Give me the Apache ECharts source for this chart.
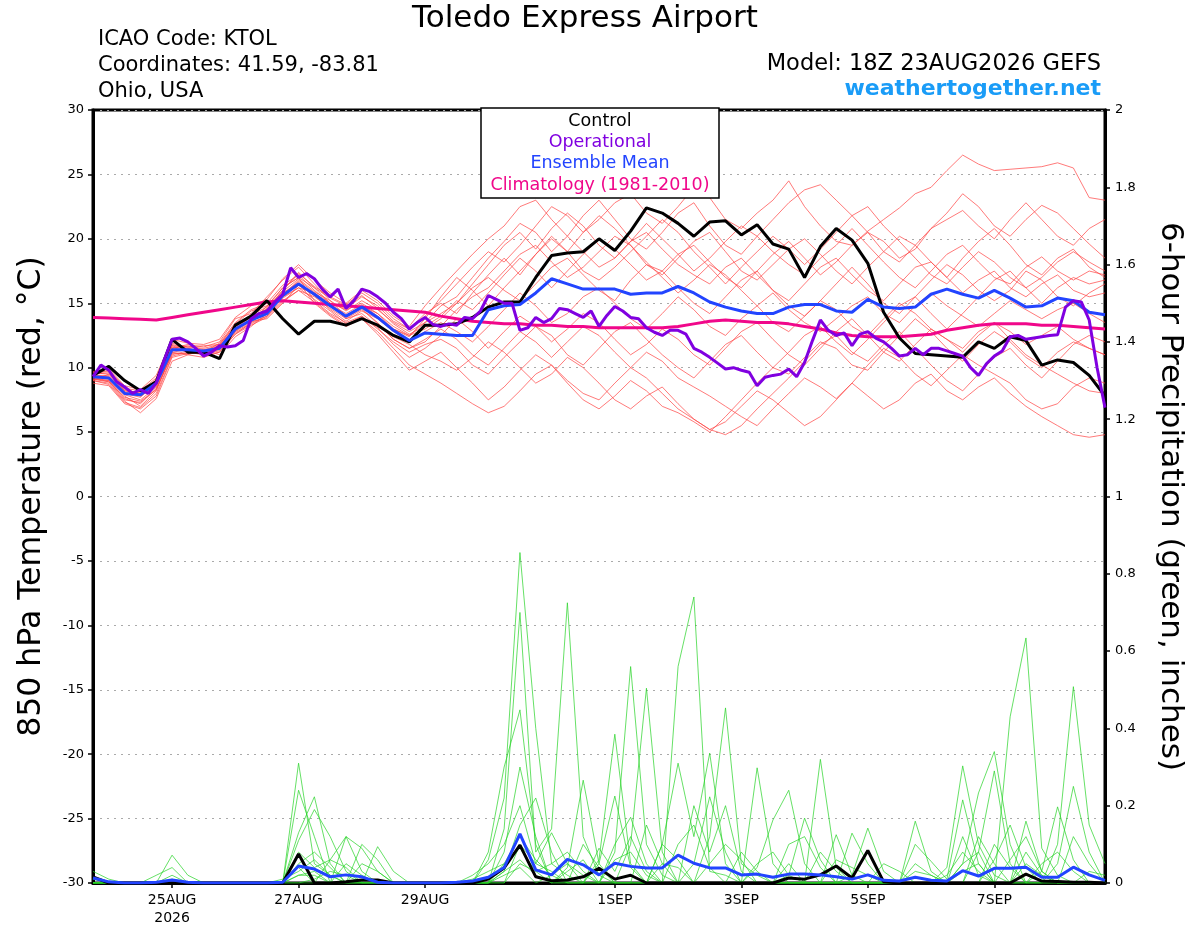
<!DOCTYPE html>
<html><head><meta charset="utf-8">
<script src="https://cdn.jsdelivr.net/npm/echarts@6/dist/echarts.min.js"></script>
<style>html,body{margin:0;padding:0;background:#fff}#c{width:1200px;height:927px}</style>
</head><body><div id="c"></div>
<script>
const FONT = "'DejaVu Sans', 'Liberation Sans', Arial, sans-serif";

// x axis: 3-hourly steps from 23AUG2026 18Z to 8SEP2026 18Z
const xTickIndex = [10, 26, 42, 66, 82, 98, 114];
const xTickLabels = ['25AUG\n2026', '27AUG', '29AUG', '1SEP', '3SEP', '5SEP', '7SEP'];

// 850 hPa temperature (deg C), 6-hourly (65 points)
const controlTemp = [9.4,10.1,9.0,8.2,8.9, 12.2,11.2,11.2,10.7,13.3, 14.0,15.2,13.8,12.6,13.6, 13.6,13.3,13.8,13.3,12.5, 12.0,13.3,13.3,13.4,13.9, 14.7,15.1,15.1,17.0,18.7, 18.9,19.0,20.0,19.1,20.6, 22.4,22.0,21.2,20.2,21.3, 21.4,20.3,21.1,19.6,19.2, 17.0,19.4,20.8,19.9,18.1, 14.3,12.3,11.1,11.0,10.9, 10.8,12.0,11.5,12.4,12.1, 10.2,10.6,10.4,9.4,7.8];
const meanTemp = [9.3,9.2,8.0,7.9,8.8, 11.4,11.4,11.3,11.5,13.0, 13.7,14.2,15.6,16.5,15.7, 14.8,14.0,14.7,13.9,12.9, 12.1,12.7,12.6,12.5,12.5, 14.5,14.8,14.9,15.8,16.9, 16.5,16.1,16.1,16.1,15.7, 15.8,15.8,16.3,15.8,15.1, 14.7,14.4,14.2,14.2,14.7, 14.9,14.9,14.4,14.3,15.3, 14.7,14.6,14.7,15.7,16.1, 15.7,15.4,16.0,15.4,14.7, 14.8,15.4,15.2,14.3,14.1];
const climTemp = [13.9,13.85,13.8,13.75,13.7, 13.9,14.1,14.3,14.5,14.7, 14.9,15.1,15.2,15.1,15.0, 14.9,14.8,14.7,14.6,14.5, 14.4,14.3,14.0,13.8,13.6, 13.5,13.4,13.4,13.3,13.3, 13.2,13.2,13.1,13.1,13.1, 13.1,13.1,13.2,13.4,13.6, 13.7,13.6,13.5,13.5,13.4, 13.2,13.0,12.7,12.5,12.4, 12.4,12.4,12.5,12.6,12.9, 13.1,13.3,13.4,13.4,13.4, 13.3,13.3,13.2,13.1,13.0];
// operational run, 3-hourly (129 points)
const operTemp = [9.3,10.2,9.8,8.9,8.5,8.0,8.3,8.0,8.8,10.6, 12.2,12.3,12.0,11.5,10.9,11.2,11.7,11.6,11.7,12.1, 13.8,14.2,14.4,15.1,15.7,17.75,17.0,17.3,16.9,16.1, 15.5,16.1,14.6,15.2,16.1,15.9,15.5,15.0,14.3,13.8, 13.0,13.5,13.9,13.35,13.2,13.4,13.3,13.9,13.8,14.4, 15.6,15.3,15.0,15.0,12.9,13.1,13.9,13.5,13.8,14.6, 14.5,14.2,13.9,14.4,13.2,14.05,14.75,14.4,13.9,13.8, 13.1,12.75,12.5,12.9,12.9,12.6,11.5,11.2,10.8,10.35, 9.9,10.0,9.8,9.65,8.6,9.25,9.4,9.5,9.9,9.3, 10.4,12.1,13.7,12.9,12.5,12.7,11.7,12.6,12.8,12.3, 12.0,11.5,10.9,11.0,11.5,11.0,11.5,11.5,11.3,11.1, 10.9,10.0,9.4,10.3,10.9,11.3,12.4,12.5,12.2,12.3, 12.4,12.5,12.55,14.7,15.2,15.1,13.7,10.0,6.9];

// ensemble members, 6-hourly temperature
const memberTemp01 = [9.5,9.8,8.5,7.8,8.6, 11.8,11.5,11.2,11.9,13.5, 14.5,15.0,16.4,17.2,16.0, 15.0,14.6,15.5,14.8,13.6, 13.0,14.0,15.2,16.5,17.8, 19.0,18.2,19.5,21.0,22.5, 21.8,20.5,21.5,22.8,23.5, 22.0,21.2,22.5,24.0,23.2, 21.5,20.8,22.0,23.0,24.5, 22.5,21.0,19.8,19.5,20.6, 21.5,22.4,23.5,24.0,25.3, 26.5,25.8,25.3,25.4,25.5, 25.6,25.9,25.5,23.2,23.0];
const memberTemp02 = [9.0,9.5,8.2,8.0,9.0, 11.5,11.8,11.6,12.0,13.8, 14.2,15.5,16.8,17.8,16.5, 15.2,14.0,14.8,14.2,13.2, 12.5,13.5,14.8,15.5,17.0, 18.5,19.8,21.2,20.5,19.0, 20.2,21.8,23.0,21.5,20.0, 19.2,20.5,22.0,22.8,21.0, 19.5,18.8,20.2,21.5,22.8, 23.8,24.2,23.0,21.8,20.5, 19.0,18.2,19.5,20.8,22.0, 23.5,22.5,21.0,20.2,21.5, 22.6,22.0,20.8,19.6,18.5];
const memberTemp03 = [9.2,9.0,7.6,7.2,8.4, 11.0,11.3,11.0,11.2,12.6, 13.5,14.0,15.2,16.0,15.5, 14.6,13.8,14.5,13.5,12.2, 11.5,12.0,13.2,14.5,15.5, 16.2,17.5,18.8,19.5,18.2, 17.0,17.8,19.0,20.2,19.5, 18.0,17.2,18.5,19.8,20.5, 19.0,17.5,16.8,18.0,19.2, 20.0,18.8,17.5,16.5,17.8, 19.0,20.2,19.5,18.2,17.0, 18.5,19.8,20.8,19.5,18.0, 17.2,18.5,19.2,17.8,17.0];
const memberTemp04 = [9.0,8.8,7.4,6.5,7.6, 10.5,11.0,11.4,11.0,12.4, 13.2,14.2,15.8,16.6,15.0, 14.0,13.2,13.8,12.8,11.5, 10.2,9.5,8.8,8.0,7.2, 6.5,7.0,8.2,9.5,10.2, 9.0,8.0,7.5,8.8,10.0, 11.2,10.5,9.2,8.5,7.8, 7.0,6.2,5.5,6.8,8.0, 9.2,8.5,7.6,8.8,10.2, 11.5,10.8,9.5,8.6,9.8, 11.0,10.2,9.5,8.8,7.5, 6.8,7.2,8.5,9.2,8.8];
const memberTemp05 = [9.4,9.3,8.0,7.7,8.8, 11.6,11.2,11.0,11.6,13.2, 14.0,14.5,15.9,16.9,15.9, 15.2,14.4,15.2,14.5,13.5, 12.8,13.5,14.2,15.0,16.2, 17.0,16.0,15.2,16.5,17.8, 18.5,17.2,16.0,15.2,16.8, 18.0,17.5,16.2,15.0,14.2, 15.5,16.8,17.5,16.0,14.8, 14.0,15.2,16.5,17.8,16.5, 15.0,14.2,15.5,16.8,18.0, 17.2,16.0,15.2,16.0,17.5, 16.8,15.5,14.8,15.8,16.5];
const memberTemp06 = [9.1,9.0,7.8,7.0,8.2, 11.2,11.0,10.8,11.2,12.8, 13.5,14.8,16.2,17.0,15.2, 14.2,13.5,14.0,13.0,12.0, 11.2,11.8,12.2,11.5,10.2, 9.5,10.8,12.0,13.2,12.5, 11.0,10.2,11.5,12.8,13.5, 12.2,11.0,10.0,9.2,10.5, 11.8,12.5,11.2,10.0,9.5, 10.8,12.0,11.5,10.2,9.8, 11.2,12.5,13.8,12.8,11.5, 10.5,11.8,12.8,12.0,10.8, 10.0,11.2,12.0,11.5,11.0];
const memberTemp07 = [9.6,9.7,8.4,8.2,9.2, 11.9,11.6,11.5,11.8,13.4, 14.4,14.8,15.5,16.2,15.8, 15.0,14.5,15.0,14.2,13.0, 12.5,13.0,13.8,15.0,16.5, 18.0,19.5,20.5,19.2,20.8, 22.0,21.0,19.5,18.5,19.8, 21.2,20.0,18.8,17.5,18.5, 19.8,21.0,20.2,19.0,18.0, 17.2,18.5,19.5,20.8,19.5, 18.2,17.0,16.2,17.5,18.8, 19.5,18.2,17.0,16.5,17.8, 18.6,17.5,16.8,17.5,17.2];
const memberTemp08 = [8.8,8.6,7.2,6.8,7.8, 10.8,11.1,11.2,11.4,12.8, 13.8,14.6,16.0,17.4,16.2, 15.0,13.8,14.2,13.2,12.4, 11.8,11.0,10.5,9.8,10.8, 12.0,11.2,10.0,8.8,9.5, 10.8,10.0,8.8,7.5,6.8, 7.8,8.5,7.2,6.0,5.2, 5.8,7.0,8.2,7.5,6.5, 5.5,6.2,7.5,8.8,7.8, 6.8,7.5,8.8,9.5,8.2, 7.5,8.5,9.2,8.0,7.0, 6.2,5.5,4.8,4.6,4.8];
const memberTemp09 = [9.3,9.1,7.9,7.5,8.5, 11.3,11.5,11.3,11.6,13.0, 13.6,13.8,15.0,16.4,15.6, 14.5,13.6,14.4,13.8,12.8, 12.0,12.8,13.5,12.8,12.0, 13.2,14.5,15.8,14.8,13.5, 14.2,15.5,16.2,15.0,13.8, 13.0,14.2,15.5,14.5,13.2, 12.5,13.8,14.8,15.8,14.5, 13.5,12.8,13.8,14.8,15.5, 14.2,13.5,14.8,15.8,14.8, 14.0,13.2,14.2,15.2,14.5, 13.8,14.5,15.0,14.2,13.5];
const memberTemp10 = [9.7,9.9,8.6,8.3,9.4, 12.2,11.9,11.8,12.2,13.9, 14.8,15.3,16.9,18.0,16.8, 15.8,15.0,16.0,15.2,14.0, 13.2,14.8,16.2,17.5,18.8, 20.0,21.0,22.5,23.0,21.5, 20.2,19.0,17.8,18.5,19.8, 20.5,19.2,18.0,17.2,16.5, 17.8,18.5,17.2,16.0,15.2, 16.5,17.8,18.5,17.2,16.0, 15.2,16.5,17.8,18.2,17.0, 15.8,16.8,17.5,16.2,15.5, 16.5,17.2,16.0,15.5,15.8];
const memberTemp11 = [9.2,8.9,7.5,7.3,8.3, 11.2,11.4,11.3,11.4,12.7, 13.4,14.0,15.4,16.2,15.3, 14.4,13.4,13.8,12.6,11.2, 9.8,10.5,11.2,10.0,8.8, 7.5,8.5,9.8,11.0,10.2, 8.8,7.5,6.8,7.8,9.0, 8.2,7.0,6.5,5.8,5.0, 6.2,7.5,8.8,10.0,11.2, 12.5,13.2,12.0,11.0,12.2, 13.5,14.8,15.5,14.2,13.0, 14.2,15.5,16.8,17.5,16.2, 15.0,16.2,17.0,16.5,16.8];
const memberTemp12 = [9.5,9.6,8.2,8.1,9.0, 11.7,11.6,11.7,11.8,13.3, 14.1,14.7,16.2,17.0,16.2, 15.4,14.8,15.6,14.6,13.4, 12.6,13.2,14.0,15.2,14.5, 15.8,17.2,18.5,17.5,16.2, 17.5,18.8,20.0,19.2,18.0, 16.8,17.5,18.8,19.5,18.2, 17.0,16.2,17.5,18.8,19.8, 18.5,17.2,18.2,19.5,20.5, 19.8,18.5,19.2,20.8,21.5, 22.2,21.0,20.0,21.5,22.8, 21.5,20.2,19.5,20.8,21.5];
const memberTemp13 = [9.0,8.7,7.3,6.9,8.0, 10.9,11.2,11.3,11.5,12.9, 13.6,14.4,15.6,16.8,15.8, 14.8,13.9,14.6,13.4,12.2, 11.5,12.2,13.0,12.2,11.0, 10.2,11.5,12.8,12.0,10.8, 12.0,13.2,12.5,11.2,10.0, 9.2,8.0,6.8,6.0,5.2, 4.8,5.5,6.8,8.0,9.2, 10.5,11.8,12.5,11.2,10.5, 11.8,12.8,11.5,10.2,9.0, 8.2,9.5,10.8,11.5,10.2, 9.2,10.5,11.8,12.5,12.0];
const memberTemp14 = [9.4,9.4,8.1,7.8,8.9, 11.5,11.7,11.4,11.7,13.1, 13.9,14.3,15.7,16.7,15.6, 14.9,14.2,14.9,14.0,13.0, 12.4,13.8,15.5,17.0,16.0, 14.8,16.2,17.5,18.8,20.0, 19.0,17.5,16.8,17.8,19.0, 20.2,21.5,20.5,19.0,17.8, 16.5,17.8,19.0,20.2,19.2, 18.0,19.2,20.5,21.8,22.5, 21.0,19.8,18.5,17.2,16.5, 17.8,19.0,18.2,17.0,16.2, 17.0,18.2,19.0,18.2,17.5];
const memberTemp15 = [9.1,8.9,7.7,7.4,8.3, 11.1,11.1,11.1,11.3,12.6, 13.3,13.9,15.1,16.0,15.1, 14.1,13.3,14.0,13.1,11.8, 10.8,11.5,12.5,13.8,12.8, 11.5,12.8,14.0,13.2,12.0, 13.0,14.2,13.5,12.2,11.0, 11.8,13.0,12.2,11.0,10.2, 11.5,12.8,13.5,12.2,11.0, 10.2,11.5,12.8,13.8,12.5, 11.2,10.5,11.8,13.0,12.2, 11.2,12.5,13.5,12.8,11.8, 12.5,13.2,12.2,11.5,11.0];
const memberTemp16 = [9.6,9.5,8.3,8.0,9.1, 11.7,11.3,11.2,11.7,13.2, 14.0,14.5,16.0,17.3,16.3, 15.5,14.9,15.8,15.0,13.8, 13.0,14.2,15.0,14.2,15.8, 17.2,18.5,17.2,18.8,20.2, 19.0,20.5,21.8,20.8,19.5, 18.2,17.0,15.8,16.8,18.0, 17.2,16.0,14.8,13.5,12.8, 14.0,15.2,14.5,13.2,12.5, 13.8,15.0,14.2,13.0,12.2, 11.5,12.8,13.5,12.2,11.0, 10.2,9.5,8.8,8.2,8.0];

// 6-hour precipitation (inches), 6-hourly
const controlPrecip = [.016,0,0,0,0, 0,0,0,0,0, 0,0,0,.075,0, 0,.003,.008,.008,0, 0,0,0,0,0, .01,.039,.098,.016,.006, .008,.016,.038,.01,.02, 0,0,0,0,0, 0,0,0,0,.013, .01,.021,.044,.013,.084, .003,0,0,0,0, 0,0,0,0,.023, .005,.004,.002,.002,0];
const meanPrecip = [.013,.003,0,0,.002, .008,.002,0,0,0, 0,0,.002,.044,.036, .016,.021,.016,.002,0, 0,0,0,.002,.005, .015,.04,.127,.034,.021, .061,.047,.021,.051,.043, .039,.039,.072,.051,.039, .039,.021,.023,.015,.023, .023,.021,.016,.01,.021, .007,.005,.015,.007,.005, .032,.018,.038,.038,.041, .015,.015,.041,.021,.007];
const memberPrecip01 = [.03,.01,0,0,0, 0,0,0,0,0, 0,0,0,.31,.05, .02,0,0,0,0, 0,0,0,0,0, .06,.22,.855,.40,.05, .02,0,0,.08,.56, .1,.02,0,0,0, 0,0,0,0,.05, 0,.32,.04,0,0, 0,0,0,0,0, .12,.02,0,0,.16, .03,0,0,0,0];
const memberPrecip02 = [0,0,0,0,0, .072,.02,0,0,0, 0,0,0,.24,.12, 0,.12,.03,0,0, 0,0,0,0,0, 0,.14,.70,.08,.14, .725,.12,.02,0,0, 0,0,.56,.74,.03, .02,0,0,0,0, 0,0,0,0,0, 0,0,.16,.03,0, 0,0,0,.43,.634, .09,.02,0,0,0];
const memberPrecip03 = [0,0,0,0,.02, .04,0,0,0,0, 0,0,0,.13,.223, .05,0,0,.094,.03, 0,0,0,0,0, .08,.30,.448,.1,0, .04,.266,.05,0,.1, .504,.08,0,0,.12, .453,.05,.02,0,0, 0,0,0,0,0, 0,0,0,0,0, .05,.233,.34,.1,0, 0,.1,.508,.15,.05];
const memberPrecip04 = [0,0,0,0,0, 0,0,0,0,0, 0,0,0,.11,.19, .12,.03,0,0,0, 0,0,0,0,0, 0,.05,.12,.06,.02, 0,0,.06,.385,.05, 0,.1,.31,.12,.336, .05,0,0,0,.02, .168,.06,0,0,0, 0,0,0,0,.04, .303,.1,.02,0,0, .03,.197,.06,0,0];
const memberPrecip05 = [0,0,0,0,0, .02,0,0,0,0, 0,0,0,.08,.04, .06,.12,.09,.03,0, 0,0,0,0,.02, .05,.1,.2,.05,.13, .05,0,.05,.225,.04, 0,0,0,.05,.223, .08,0,.04,.163,.24, .05,0,0,0,0, 0,0,0,0,0, 0,.08,.29,.05,0, 0,.05,.25,.08,0];
const memberPrecip06 = [0,0,0,0,0, 0,0,0,0,0, 0,0,0,.05,.08, .04,0,.1,.06,0, 0,0,0,0,0, 0,.03,.15,.22,.08, 0,.1,.04,0,0, .15,.05,0,0,0, 0,0,.298,.05,0, 0,0,.125,.02,0, 0,0,.1,.056,.01, .215,.05,0,0,0, 0,0,0,0,0];
const memberPrecip07 = [0,0,0,0,0, 0,0,0,0,0, 0,0,0,.04,0, .06,.04,0,0,0, 0,0,0,0,0, 0,.08,.3,.12,0, .03,.06,0,.1,.17, .05,0,0,.2,.08, .2,.03,0,0,0, 0,0,0,.129,.05, 0,0,0,0,0, 0,.12,.05,0,.08, .02,0,0,0,0];
const memberPrecip08 = [0,0,0,0,0, 0,0,0,0,0, 0,0,.01,.03,.06, .02,0,0,0,0, 0,0,0,0,.01, .03,.05,.09,.03,.05, .08,.03,0,0,0, 0,.1,.06,0,0, 0,.08,.03,0,0, 0,0,0,.02,.142, .03,0,.03,.02,0, 0,0,.1,.04,0, 0,0,.12,.05,0];
const memberPrecip09 = [0,0,0,0,0, 0,0,0,0,0, 0,0,0,.02,.03, 0,.05,.02,0,0, 0,0,0,0,0, 0,.03,.06,.02,0, 0,0,.09,.03,.12, .03,0,.1,.15,.04, 0,0,0,0,.1, .12,.04,0,0,0, 0,0,0,0,0, .05,.08,0,.06,.12, .03,0,0,0,0];
const memberPrecip10 = [0,0,0,0,0, 0,0,0,0,0, 0,0,0,0,0, 0,0,0,0,0, 0,0,0,0,0, 0,.02,.04,0,.02, .05,.02,0,0,0, 0,0,0,0,.05, .1,.06,0,0,0, 0,.08,.03,0,0, .05,.03,0,0,.02, .08,.03,0,0,0, .05,.08,.03,0,0];
const memberPrecip11 = [.01,0,0,0,0, .01,0,0,0,0, 0,0,0,.02,.02, 0,0,.05,.03,0, 0,0,0,0,0, 0,0,.05,.03,0, 0,0,0,.06,.08, .02,0,0,0,0, 0,0,.05,.08,.02, 0,0,0,0,0, 0,0,.05,.02,0, 0,0,.06,.15,.04, 0,0,0,0,0];
const memberPrecip12 = [0,0,0,0,0, 0,0,0,0,0, 0,0,0,0,.01, .03,.02,0,0,0, 0,0,0,0,0, 0,0,.1,.05,.03, 0,0,0,0,0, 0,.05,.04,0,0, 0,0,0,0,0, 0,0,.06,.04,.02, 0,0,0,0,0, .03,.05,0,0,.05, .02,0,0,.03,.02];

const memberTemps = [memberTemp01,memberTemp02,memberTemp03,memberTemp04,memberTemp05,memberTemp06,memberTemp07,memberTemp08,memberTemp09,memberTemp10,memberTemp11,memberTemp12,memberTemp13,memberTemp14,memberTemp15,memberTemp16];
const memberPrecips = [memberPrecip01,memberPrecip02,memberPrecip03,memberPrecip04,memberPrecip05,memberPrecip06,memberPrecip07,memberPrecip08,memberPrecip09,memberPrecip10,memberPrecip11,memberPrecip12];

// category axis: 3-hourly valid times
const MONTHS = ['JAN','FEB','MAR','APR','MAY','JUN','JUL','AUG','SEP','OCT','NOV','DEC'];
const startMs = Date.UTC(2026, 7, 23, 18);
const categories = [];
for (let j = 0; j < operTemp.length; j++) {
  const d = new Date(startMs + j * 3 * 3600 * 1000);
  categories.push(String(d.getUTCHours()).padStart(2,'0') + 'Z' + d.getUTCDate() + MONTHS[d.getUTCMonth()]);
}
const six = arr => arr.map((v, i) => [i * 2, v]);
const isTick = (idx) => xTickIndex.indexOf(idx) >= 0;

const COL = {
  control: '#000000', oper: '#8000e0', mean: '#2244ff', clim: '#f0078a',
  red: '#ff4545', green: '#2ad42a'
};

const series = [];
memberTemps.forEach((arr, k) => series.push({
  type: 'line', name: 'Member T ' + (k + 1), yAxisIndex: 0, data: six(arr),
  symbol: 'none', silent: true, z: 2,
  lineStyle: { color: COL.red, width: 0.8, opacity: 0.9 }
}));
memberPrecips.forEach((arr, k) => series.push({
  type: 'line', name: 'Member P ' + (k + 1), yAxisIndex: 1, data: six(arr),
  symbol: 'none', silent: true, z: 2,
  lineStyle: { color: COL.green, width: 0.8, opacity: 0.9 }
}));
series.push({ type: 'line', name: 'Climatology (1981-2010)', yAxisIndex: 0, data: six(climTemp),
  symbol: 'none', z: 3, lineStyle: { color: COL.clim, width: 3 } });
series.push({ type: 'line', name: 'Control', yAxisIndex: 0, data: six(controlTemp),
  symbol: 'none', z: 4, lineStyle: { color: COL.control, width: 3 } });
series.push({ type: 'line', name: 'Control precip', yAxisIndex: 1, data: six(controlPrecip),
  symbol: 'none', z: 4, lineStyle: { color: COL.control, width: 3 } });
series.push({ type: 'line', name: 'Ensemble Mean', yAxisIndex: 0, data: six(meanTemp),
  symbol: 'none', z: 5, lineStyle: { color: COL.mean, width: 3 } });
series.push({ type: 'line', name: 'Ensemble Mean precip', yAxisIndex: 1, data: six(meanPrecip),
  symbol: 'none', z: 5, lineStyle: { color: COL.mean, width: 3 } });
series.push({ type: 'line', name: 'Operational', yAxisIndex: 0, data: operTemp,
  symbol: 'none', z: 6, lineStyle: { color: COL.oper, width: 3 } });

const txt = (text, x, y, size, color, align, weight) => ({
  type: 'text', z: 100, x: x, y: y,
  style: { text: text, fill: color, font: (weight || 'normal') + ' ' + size + 'px ' + FONT,
    textAlign: align, align: align, textVerticalAlign: 'middle', verticalAlign: 'middle' }
});

const option = {
  animation: false,
  backgroundColor: '#ffffff',
  grid: { left: 93, right: 95, top: 110, bottom: 44, show: true, borderColor: '#000', borderWidth: 3, backgroundColor: 'transparent' },
  xAxis: {
    type: 'category', data: categories, boundaryGap: false,
    axisLine: { show: true, onZero: false, lineStyle: { color: '#000', width: 3 } },
    axisTick: { show: true, interval: (i) => isTick(i), length: 5, inside: false, lineStyle: { color: '#000', width: 1.5 } },
    axisLabel: { interval: (i) => isTick(i), margin: 8, color: '#000', fontFamily: FONT, fontSize: 14, lineHeight: 18,
      formatter: (v, i) => { const k = xTickIndex.indexOf(i); return k >= 0 ? xTickLabels[k] : ''; } },
    splitLine: { show: false }
  },
  yAxis: [
    { type: 'value', position: 'left', min: -30, max: 30, interval: 5,
      name: '850 hPa Temperature (red, \u00B0C)', nameLocation: 'middle', nameGap: 45, nameRotate: 90,
      nameTextStyle: { color: '#000', fontFamily: FONT, fontSize: 31.5 },
      axisLine: { show: true, lineStyle: { color: '#000', width: 3 } },
      axisTick: { show: true, length: 5, lineStyle: { color: '#000', width: 1.5 } },
      axisLabel: { color: '#000', fontFamily: FONT, fontSize: 13, margin: 9 },
      splitLine: { show: true, lineStyle: { color: '#aaaaaa', width: 1, type: [2, 5] } } },
    { type: 'value', position: 'right', min: 0, max: 2, interval: 0.2,
      name: '6-hour Precipitation (green, inches)', nameLocation: 'middle', nameGap: 50, nameRotate: -90,
      nameTextStyle: { color: '#000', fontFamily: FONT, fontSize: 31 },
      axisLine: { show: true, lineStyle: { color: '#000', width: 3 } },
      axisTick: { show: true, length: 5, lineStyle: { color: '#000', width: 1.5 } },
      axisLabel: { color: '#000', fontFamily: FONT, fontSize: 13, margin: 10 },
      splitLine: { show: false } }
  ],
  graphic: [
    txt('Toledo Express Airport', 585, 19, 31, '#000', 'center'),
    txt('ICAO Code: KTOL', 98, 40, 21, '#000', 'left'),
    txt('Coordinates: 41.59, -83.81', 98, 66, 21, '#000', 'left'),
    txt('Ohio, USA', 98, 92, 21, '#000', 'left'),
    txt('Model: 18Z 23AUG2026 GEFS', 1101, 64, 22.5, '#000', 'right'),
    txt('weathertogether.net', 1101, 89, 22, '#1a9cf7', 'right', 'bold'),
    { type: 'rect', z: 99, shape: { x: 481, y: 108, width: 238, height: 90 },
      style: { fill: '#ffffff', stroke: '#000', lineWidth: 1.5 } },
    txt('Control', 600, 121, 17.5, COL.control, 'center'),
    txt('Operational', 600, 142, 17.5, COL.oper, 'center'),
    txt('Ensemble Mean', 600, 163, 17.5, COL.mean, 'center'),
    txt('Climatology (1981-2010)', 600, 185, 17.5, COL.clim, 'center')
  ],
  series: series
};
const chart = echarts.init(document.getElementById('c'));
chart.setOption(option);
</script>
</body></html>
